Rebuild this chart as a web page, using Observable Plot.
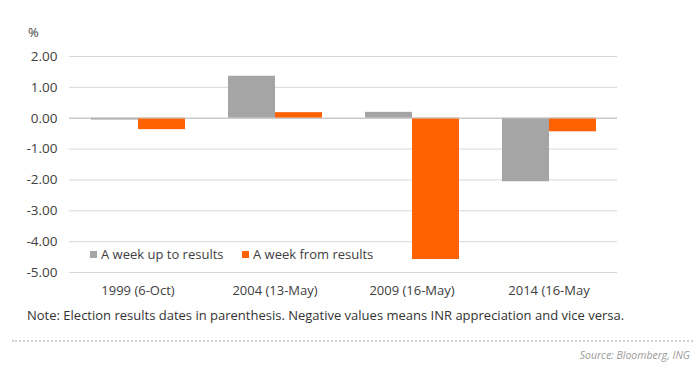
<!DOCTYPE html>
<html>
<head>
<meta charset="utf-8">
<script src="https://cdn.jsdelivr.net/npm/d3@7"></script>
<script src="https://cdn.jsdelivr.net/npm/@observablehq/plot@0.6"></script>
<style>
  body { margin: 0; background: #fff; font-family: "Open Sans", sans-serif; }
  #wrap { position: relative; width: 697px; height: 386px; overflow: hidden; }
  #chart { position: absolute; left: 0; top: 0; }
  .pct { position: absolute; left: 28px; top: 23px; font-size: 13px; color: #444; }
  .legend { position: absolute; top: 245px; font-size: 13px; color: #404040; white-space: nowrap; }
  .legend span.sw { display: inline-block; width: 7px; height: 7px; margin-right: 4px; vertical-align: 1px; }
  .note { position: absolute; left: 27px; top: 306px; font-size: 13px; color: #333; white-space: nowrap; }
  .sep { position: absolute; left: 12px; width: 681px; top: 340px; border-top: 2px dotted #cfcfcf; }
  .source { position: absolute; right: 7px; top: 348px; font-size: 10.5px; font-style: italic; color: #9a9a9a; }
</style>
</head>
<body>
<div id="wrap">
  <div id="chart"></div>
  <div class="pct">%</div>
  <div class="legend" style="left:90px"><span class="sw" style="background:#a5a5a5"></span>A week up to results</div>
  <div class="legend" style="left:242px"><span class="sw" style="background:#ff6200"></span>A week from results</div>
  <div class="note">Note: Election results dates in parenthesis. Negative values means INR appreciation and vice versa.</div>
  <div class="sep"></div>
  <div class="source">Source: Bloomberg, ING</div>
</div>
<script>
const years = ["1999 (6-Oct)", "2004 (13-May)", "2009 (16-May)", "2014 (16-May"];
const series = ["A week up to results", "A week from results"];
const upTo = [-0.06, 1.36, 0.19, -2.06];
const fromRes = [-0.37, 0.18, -4.58, -0.44];
const colors = ["#a5a5a5", "#ff6200"];
const yTicks = [2, 1, 0, -1, -2, -3, -4, -5];

const data = [];
years.forEach((yr, i) => {
  data.push({year: yr, series: series[0], value: upTo[i]});
  data.push({year: yr, series: series[1], value: fromRes[i]});
});

const chart = Plot.plot({
  width: 697,
  height: 300,
  marginTop: 56,
  marginBottom: 28,
  marginLeft: 68,
  marginRight: 79,
  style: {fontSize: "13px", fontFamily: "Open Sans, sans-serif", color: "#404040", background: "transparent"},
  fx: {domain: years, padding: 0, axis: "bottom", tickSize: 0, tickPadding: 13, label: null},
  x: {domain: series, axis: null, paddingInner: 0, paddingOuter: 0.432},
  y: {domain: [-5, 2], axis: null},
  color: {domain: series, range: colors},
  marks: [
    Plot.gridY(yTicks, {stroke: "#d9d9d9", strokeOpacity: 1}),
    Plot.axisY(yTicks, {tickSize: 0, tickPadding: 12, tickFormat: d => d.toFixed(2), label: null, fontSize: 13.5}),
    Plot.barY(data, {fx: "year", x: "series", y: "value", fill: "series"}),
    Plot.ruleY([0], {stroke: "#c0c0c0"})
  ]
});
document.getElementById("chart").appendChild(chart);
</script>
</body>
</html>
